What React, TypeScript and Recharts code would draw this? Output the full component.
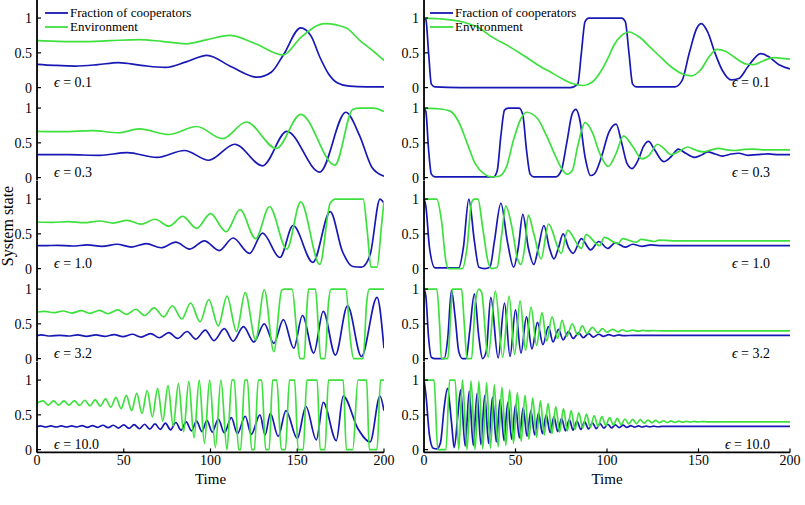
import { Line, LineChart, XAxis, YAxis } from 'recharts'

type Pt = [number, number]

const timeTicks = [0, 50, 100, 150, 200]
const stateTicks = [0, 0.5, 1]
const epsLabels = ['0.1', '0.3', '1.0', '3.2', '10.0']

// left column: cooperators (blue) and environment (green)
const coopL1: Pt[] = [[0, 0.335], [10, 0.32], [22, 0.31], [35, 0.33], [47, 0.36], [60, 0.32], [74, 0.29], [86, 0.37], [98, 0.465], [112, 0.3], [127, 0.15], [135, 0.22], [142, 0.47], [152, 0.86], [158, 0.74], [163, 0.44], [168, 0.2], [173, 0.07], [180, 0.02], [190, 0.01], [200, 0.01]]
const envL1: Pt[] = [[0, 0.675], [12, 0.665], [26, 0.66], [42, 0.675], [59, 0.69], [72, 0.665], [86, 0.63], [98, 0.69], [111, 0.75], [126, 0.63], [142, 0.47], [152, 0.72], [166, 0.92], [178, 0.86], [186, 0.68], [194, 0.52], [200, 0.39]]

const coopL2: Pt[] = [[0, 0.33], [18, 0.33], [36, 0.32], [52, 0.36], [69, 0.29], [85, 0.39], [99, 0.25], [114, 0.48], [130, 0.17], [144, 0.665], [163, 0.08], [178, 0.94], [186, 0.6], [193, 0.15], [200, 0.02]]
const envL2: Pt[] = [[0, 0.665], [15, 0.66], [32, 0.675], [47, 0.645], [59, 0.7], [76, 0.62], [92, 0.735], [107, 0.56], [120.6, 0.8], [138, 0.42], [152, 0.91], [171.7, 0.18], [182, 0.98], [186, 1.0], [194, 1.0], [200, 0.95]]

const coopL3: Pt[] = [[0, 0.33], [4, 0.33], [12, 0.335], [20.5, 0.325], [29, 0.34], [37.5, 0.32], [46, 0.35], [54.5, 0.31], [63, 0.36], [71.5, 0.3], [80, 0.38], [88, 0.28], [96.5, 0.4], [105, 0.26], [113, 0.44], [122.5, 0.22], [130, 0.51], [140, 0.16], [147.6, 0.62], [159, 0.09], [169, 0.82], [176, 0.25], [182, 0.03], [187, 0.02], [192, 0.2], [197.7, 1.0], [200, 0.94]]
const envL3: Pt[] = [[0, 0.67], [9, 0.665], [18, 0.675], [27, 0.66], [36, 0.685], [44, 0.655], [52, 0.695], [60, 0.64], [68, 0.71], [76, 0.61], [84, 0.75], [92, 0.58], [100, 0.79], [109, 0.53], [117, 0.85], [126, 0.43], [134, 0.89], [144, 0.28], [152, 0.96], [163, 0.06], [169, 0.94], [172, 1.0], [188, 1.0], [190.5, 0.5], [192.5, 0.02], [196, 0.02], [198.5, 0.6], [200, 0.97]]

const coopL4: Pt[] = [[0, 0.33], [2.5, 0.34], [7.5, 0.325], [13, 0.335], [18, 0.325], [23.5, 0.34], [28.5, 0.32], [34, 0.34], [39, 0.32], [44.5, 0.345], [49.5, 0.315], [55, 0.35], [60, 0.31], [65.5, 0.36], [70.5, 0.3], [76, 0.375], [81, 0.29], [86.5, 0.39], [91.5, 0.28], [97, 0.41], [102, 0.26], [108, 0.43], [113, 0.25], [119, 0.46], [125, 0.24], [131, 0.5], [136.5, 0.22], [142, 0.56], [148, 0.15], [153, 0.62], [159.5, 0.08], [165, 0.68], [172, 0.05], [179, 0.76], [187, 0.03], [196, 0.88], [200, 0.15]]
const envL4: Pt[] = [[0, 0.67], [4.5, 0.68], [9.5, 0.66], [15, 0.685], [20, 0.655], [25.5, 0.69], [30.5, 0.65], [36, 0.695], [41, 0.645], [46.5, 0.7], [51.5, 0.635], [57, 0.71], [62, 0.62], [67.5, 0.73], [73, 0.6], [78, 0.76], [83.5, 0.57], [88.5, 0.8], [94, 0.53], [99, 0.85], [104.5, 0.47], [109.5, 0.9], [115, 0.39], [120, 0.95], [126, 0.27], [131, 0.99], [136.5, 0.1], [141, 0.98], [142.5, 1.0], [147, 1.0], [150, 0.3], [151.5, 0.0], [154, 0.0], [155.5, 0.7], [156.5, 1.0], [160.5, 1.0], [162.5, 0.3], [163.5, 0.0], [166, 0.0], [168, 0.8], [169.5, 1.0], [178, 1.0], [180.5, 0.3], [182.5, 0.0], [188, 0.0], [190, 0.8], [191.5, 1.0], [200, 1.0]]

const coopL5: Pt[] = [[0, 0.33], [2, 0.34], [5, 0.325], [8, 0.34], [11, 0.325], [14, 0.34], [17, 0.325], [20, 0.34], [23, 0.325], [26, 0.345], [29, 0.32], [32, 0.345], [35, 0.32], [38, 0.35], [41, 0.315], [44, 0.35], [47, 0.31], [50, 0.355], [53, 0.305], [56, 0.36], [59, 0.3], [62, 0.365], [65, 0.295], [68, 0.37], [71, 0.29], [74, 0.38], [77, 0.285], [80, 0.39], [83, 0.28], [86, 0.4], [89, 0.27], [92, 0.41], [95, 0.26], [98, 0.42], [101, 0.25], [104.5, 0.44], [108, 0.24], [112, 0.46], [115.5, 0.23], [120, 0.48], [123.5, 0.22], [128.5, 0.5], [131.5, 0.21], [134.5, 0.52], [139, 0.19], [143.5, 0.56], [150, 0.16], [155, 0.62], [161, 0.14], [165, 0.68], [172.5, 0.13], [176.5, 0.77], [185, 0.3], [192, 0.11], [197.7, 0.77], [200, 0.56]]
const envL5: Pt[] = [[0, 0.67], [3.5, 0.7], [6.5, 0.64], [9.5, 0.7], [12.5, 0.64], [15.5, 0.7], [18.5, 0.64], [21.5, 0.705], [24.5, 0.635], [27.5, 0.71], [30.5, 0.63], [33.5, 0.715], [36.5, 0.625], [39.5, 0.73], [42.5, 0.61], [45.5, 0.75], [48.5, 0.59], [51.5, 0.78], [54.5, 0.56], [57.5, 0.81], [60.5, 0.52], [63.5, 0.85], [66.5, 0.47], [69.5, 0.88], [72.5, 0.41], [75.5, 0.92], [78.5, 0.34], [81.5, 0.95], [84.5, 0.26], [87.5, 0.98], [90.5, 0.17], [93.5, 1.0], [96.5, 0.09], [99.5, 1.0], [102.8, 0.03], [106, 1.0], [109.5, 0.0], [112.3, 1.0], [113.7, 1.0], [116.2, 0.0], [117.4, 0.0], [119.7, 1.0], [121.3, 1.0], [123.7, 0.0], [125.3, 0.0], [127.5, 1.0], [129.5, 1.0], [131.8, 0.0], [133.8, 0.0], [135.8, 1.0], [138.2, 1.0], [140.8, 0.0], [143.2, 0.0], [145.5, 1.0], [148.5, 1.0], [150.5, 0.0], [153.5, 0.0], [155.5, 1.0], [161.5, 1.0], [163.2, 0.0], [166, 0.0], [168, 1.0], [176.5, 1.0], [178.3, 0.0], [182, 0.0], [185, 1.0], [190, 1.0], [191.5, 0.0], [196, 0.0], [198, 1.0], [200, 1.0]]

// right column
const coopR1: Pt[] = [[0, 1.0], [1, 0.98], [2.5, 0.5], [4, 0.05], [6, 0.01], [20, 0.0], [80, 0.0], [84, 0.05], [86, 0.5], [88, 0.95], [90, 1.0], [108, 1.0], [110, 0.95], [112, 0.5], [114, 0.05], [116, 0.01], [137, 0.01], [141, 0.1], [145, 0.5], [149, 0.85], [151.6, 0.92], [155, 0.8], [159, 0.5], [163, 0.25], [168, 0.11], [172, 0.13], [177, 0.3], [184, 0.49], [188, 0.45], [194, 0.33], [200, 0.27]]
const envR1: Pt[] = [[0, 1.0], [8, 0.99], [21.6, 0.94], [30, 0.86], [37, 0.73], [46, 0.6], [54, 0.47], [62, 0.33], [70, 0.21], [76, 0.12], [81, 0.06], [87, 0.03], [92, 0.08], [97, 0.25], [101, 0.45], [104, 0.62], [108, 0.75], [112, 0.8], [118, 0.72], [124, 0.57], [130, 0.42], [135, 0.3], [141, 0.2], [146, 0.17], [151, 0.25], [156, 0.45], [160, 0.55], [165, 0.52], [170, 0.43], [176, 0.34], [180, 0.33], [185, 0.38], [191, 0.43], [196, 0.42], [200, 0.41]]

const coopR2: Pt[] = [[0, 1.0], [1, 0.95], [2.5, 0.4], [4, 0.05], [6, 0.01], [38, 0.01], [40, 0.1], [42, 0.6], [44, 0.97], [46, 1.0], [52, 1.0], [54, 0.9], [56, 0.4], [58, 0.05], [60, 0.01], [72, 0.01], [75, 0.1], [78, 0.5], [81, 0.92], [83, 0.98], [85, 0.85], [88, 0.3], [91, 0.03], [93, 0.05], [97, 0.3], [101, 0.65], [105, 0.77], [108, 0.5], [111, 0.2], [113.7, 0.13], [117, 0.25], [120, 0.45], [122.7, 0.52], [126, 0.4], [131, 0.23], [135, 0.3], [139, 0.41], [143, 0.35], [148, 0.29], [152, 0.33], [155, 0.37], [159, 0.34], [163, 0.31], [168, 0.34], [172, 0.35], [177, 0.32], [182, 0.33], [188, 0.34], [194, 0.33], [200, 0.33]]
const envR2: Pt[] = [[0, 1.0], [8, 0.99], [14, 0.96], [19, 0.8], [23.5, 0.5], [28, 0.2], [33, 0.05], [37, 0.01], [41, 0.02], [45, 0.15], [49, 0.55], [53, 0.85], [56, 0.94], [62, 0.85], [67, 0.6], [72, 0.3], [76, 0.1], [78, 0.05], [81, 0.1], [84, 0.45], [88, 0.79], [92, 0.65], [96, 0.35], [100.6, 0.16], [105, 0.35], [109, 0.6], [114, 0.45], [119, 0.27], [123, 0.32], [127.6, 0.48], [131, 0.42], [135, 0.33], [139.5, 0.38], [144, 0.44], [148, 0.4], [152.6, 0.37], [157, 0.4], [161, 0.42], [165.5, 0.4], [170, 0.39], [175, 0.405], [179.6, 0.41], [185, 0.4], [200, 0.4]]

const coopR3: Pt[] = [[0, 1.0], [1, 0.9], [3, 0.3], [6, 0.01], [19, 0.01], [21.5, 0.3], [24.5, 1.0], [27.5, 0.4], [30, 0.02], [33, 0.0], [36, 0.02], [38.5, 0.4], [42, 0.94], [45.5, 0.4], [49, 0.02], [51.5, 0.3], [54, 0.78], [57, 0.3], [60, 0.06], [62.5, 0.3], [65.5, 0.62], [68.5, 0.3], [71, 0.14], [73.5, 0.3], [76, 0.5], [79, 0.3], [81.5, 0.22], [86, 0.43], [91, 0.27], [95.5, 0.39], [100.5, 0.29], [104.5, 0.37], [110, 0.31], [114, 0.35], [119, 0.32], [124, 0.34], [130, 0.33], [200, 0.33]]
const envR3: Pt[] = [[0, 1.0], [7, 1.0], [9.5, 0.7], [12, 0.1], [13.5, 0.0], [21, 0.0], [23.5, 0.3], [26, 0.95], [27.5, 1.0], [29.5, 1.0], [32, 0.6], [35, 0.1], [37, 0.0], [40, 0.02], [42.5, 0.5], [44.7, 0.9], [48, 0.6], [51, 0.15], [53, 0.06], [55, 0.3], [57, 0.77], [60, 0.5], [64, 0.14], [68, 0.64], [75, 0.22], [78.5, 0.55], [86, 0.29], [88.5, 0.49], [96, 0.33], [98.5, 0.45], [106, 0.36], [108.5, 0.43], [116, 0.38], [118.5, 0.42], [126, 0.39], [128.5, 0.41], [136, 0.4], [200, 0.4]]

const coopR4: Pt[] = [[0, 1.0], [1, 0.9], [2.5, 0.3], [4, 0.02], [6, 0.0], [11, 0.0], [13, 0.3], [15, 0.98], [17, 0.6], [19, 0.1], [21, 0.0], [23, 0.0], [25, 0.4], [27.5, 0.93], [30, 0.3], [32, 0.0], [34, 0.1], [36.5, 0.88], [40.5, 0.01], [44, 0.8], [47, 0.03], [50, 0.7], [53, 0.08], [56, 0.6], [59, 0.14], [62, 0.52], [65, 0.2], [68, 0.46], [70.5, 0.24], [73.5, 0.42], [76, 0.27], [79, 0.39], [81.5, 0.29], [84.5, 0.37], [87, 0.3], [90, 0.36], [92.5, 0.31], [95.5, 0.35], [98, 0.32], [101, 0.345], [103.5, 0.325], [106.5, 0.34], [109, 0.33], [115, 0.335], [200, 0.335]]
const envR4: Pt[] = [[0, 1.0], [7, 1.0], [8.5, 0.5], [9.5, 0.0], [13, 0.0], [14.5, 0.6], [15.5, 1.0], [20.5, 1.0], [22, 0.5], [23.5, 0.0], [26, 0.0], [28, 0.8], [30, 1.0], [31.5, 0.95], [35, 0.02], [39, 0.97], [43, 0.02], [46.5, 0.9], [49.5, 0.06], [52.5, 0.83], [55.5, 0.12], [58.5, 0.74], [61.5, 0.19], [64.5, 0.66], [67, 0.25], [70, 0.6], [73, 0.29], [75.5, 0.55], [78, 0.32], [81, 0.5], [84, 0.34], [86.5, 0.47], [89, 0.36], [92, 0.45], [95, 0.37], [97.5, 0.43], [100, 0.38], [103, 0.42], [106, 0.385], [108.5, 0.415], [111, 0.39], [114, 0.41], [117, 0.395], [119.5, 0.405], [122, 0.398], [125, 0.402], [130, 0.4], [200, 0.4]]

const coopR5: Pt[] = [[0, 1.0], [1, 0.8], [3, 0.2], [5, 0.02], [7, 0.01], [9, 0.1], [11, 0.6], [12.8, 0.88], [15, 0.4], [16.5, 0.03], [18.5, 0.5], [20, 0.86], [22.5, 0.05], [24.7, 0.84], [26.9, 0.06], [29, 0.81], [31.1, 0.07], [33.2, 0.78], [35.3, 0.09], [37.4, 0.75], [39.5, 0.11], [41.6, 0.72], [43.7, 0.13], [45.8, 0.68], [47.9, 0.15], [50, 0.64], [52.1, 0.17], [54.2, 0.6], [56.3, 0.19], [58.4, 0.56], [60.5, 0.21], [62.6, 0.53], [64.7, 0.23], [66.8, 0.5], [68.9, 0.245], [71, 0.47], [73.1, 0.26], [75.2, 0.45], [77.3, 0.27], [79.4, 0.43], [81.5, 0.28], [83.6, 0.41], [85.7, 0.29], [87.8, 0.4], [89.9, 0.297], [92, 0.385], [94.1, 0.303], [96.2, 0.375], [98.3, 0.308], [100.4, 0.365], [102.5, 0.312], [104.6, 0.357], [106.7, 0.316], [108.8, 0.351], [110.9, 0.319], [113, 0.346], [115.1, 0.322], [117.2, 0.342], [119.3, 0.325], [121.4, 0.339], [123.5, 0.327], [125.6, 0.337], [127.7, 0.329], [130, 0.334], [200, 0.334]]
const envR5: Pt[] = [[0, 1.0], [5.5, 1.0], [7.5, 0.0], [12, 0.0], [14, 1.0], [17, 1.0], [19, 0.0], [21, 1.0], [23.5, 0.0], [25.7, 0.99], [27.9, 0.0], [30, 0.98], [32.1, 0.01], [34.2, 0.96], [36.3, 0.02], [38.4, 0.93], [40.5, 0.04], [42.6, 0.9], [44.7, 0.06], [46.8, 0.86], [48.9, 0.09], [51, 0.82], [53.1, 0.12], [55.2, 0.78], [57.3, 0.15], [59.4, 0.74], [61.5, 0.18], [63.6, 0.7], [65.7, 0.21], [67.8, 0.66], [69.9, 0.23], [72, 0.62], [74.1, 0.25], [76.2, 0.59], [78.3, 0.27], [80.4, 0.56], [82.5, 0.29], [84.6, 0.53], [86.7, 0.31], [88.8, 0.51], [90.9, 0.32], [93, 0.49], [95.1, 0.335], [97.2, 0.475], [99.3, 0.345], [101.4, 0.46], [103.5, 0.355], [105.6, 0.45], [107.7, 0.36], [109.8, 0.44], [111.9, 0.37], [114, 0.435], [116.1, 0.375], [118.2, 0.43], [120.3, 0.38], [122.4, 0.425], [124.5, 0.385], [126.6, 0.42], [128.7, 0.388], [130.8, 0.415], [132.9, 0.39], [135, 0.412], [137.1, 0.392], [139.2, 0.41], [141.3, 0.394], [143.4, 0.407], [145.5, 0.396], [147.6, 0.405], [149.7, 0.398], [151.8, 0.403], [155, 0.4], [200, 0.4]]

const leftCol = [[coopL1, envL1], [coopL2, envL2], [coopL3, envL3], [coopL4, envL4], [coopL5, envL5]]
const rightCol = [[coopR1, envR1], [coopR2, envR2], [coopR3, envR3], [coopR4, envR4], [coopR5, envR5]]

const BLUE = '#1818b4'
const GREEN = '#3ee03e'
const FONT = '"Liberation Serif", "Times New Roman", serif'

const PH = 90.4
const AXW = 40
const PAD_R = 14
const PAD_B = 8
const BOTTOM_H = 22
const COLS = [{ x: 37, w: 347 }, { x: 424, w: 366 }]
const ROW_Y = [0, 90.4, 180.8, 271.2, 361.6]

const pts = (a: Pt[]) => a.map(([t, v]) => ({ t, v }))
const tickText = { fontFamily: FONT, fontSize: 14, fill: '#000' }
const frame = { stroke: '#000', strokeWidth: 1.8 }
const tickMark = { stroke: '#000', strokeWidth: 1.2 }

function Panel({ x, w, y, coop, env, last }: { x: number; w: number; y: number; coop: Pt[]; env: Pt[]; last: boolean }) {
  const h = 1 + PH + PAD_B + (last ? BOTTOM_H : 0)
  return (
    <div style={{ position: 'absolute', left: x - AXW, top: y - 1 }}>
      <LineChart width={AXW + w + PAD_R} height={h} margin={{ top: 1, right: PAD_R, bottom: PAD_B, left: 0 }}>
        <XAxis xAxisId="b" type="number" dataKey="t" domain={[0, 200]} ticks={timeTicks} interval={0} allowDataOverflow
          height={last ? BOTTOM_H : 0} tickSize={-4} tickMargin={7} tick={last ? tickText : false} axisLine={frame} tickLine={tickMark} />
        <XAxis xAxisId="t" orientation="top" type="number" dataKey="t" domain={[0, 200]} ticks={timeTicks} interval={0} allowDataOverflow
          height={0} tickSize={-4} tick={false} axisLine={frame} tickLine={tickMark} />
        <YAxis yAxisId="l" type="number" domain={[-0.04, 1.26]} ticks={stateTicks} interval={0} allowDataOverflow width={AXW}
          tickSize={-4} tickMargin={9} tick={tickText} axisLine={frame} tickLine={tickMark}
          tickFormatter={(v: number) => (v === 0.5 ? '0.5' : String(v))} />
        <YAxis yAxisId="r" orientation="right" type="number" domain={[-0.04, 1.26]} ticks={stateTicks} interval={0} allowDataOverflow width={0}
          tickSize={-4} tick={false} axisLine={frame} tickLine={tickMark} />
        <Line xAxisId="b" yAxisId="l" data={pts(coop)} dataKey="v" type="monotone" stroke={BLUE} strokeWidth={1.7} dot={false} isAnimationActive={false} />
        <Line xAxisId="b" yAxisId="l" data={pts(env)} dataKey="v" type="monotone" stroke={GREEN} strokeWidth={1.7} dot={false} isAnimationActive={false} />
      </LineChart>
    </div>
  )
}

function Legend({ x }: { x: number }) {
  return (
    <g fontFamily={FONT} fontSize={13}>
      <line x1={x} x2={x + 23} y1={13} y2={13} stroke={BLUE} strokeWidth={1.8} />
      <text x={x + 25} y={17}>Fraction of cooperators</text>
      <line x1={x} x2={x + 23} y1={27} y2={27} stroke={GREEN} strokeWidth={1.8} />
      <text x={x + 25} y={31}>Environment</text>
    </g>
  )
}

export default function App() {
  return (
    <div style={{ position: 'absolute', left: 0, top: 0, width: 805, height: 505, background: '#fff', overflow: 'hidden' }}>
      {leftCol.map(([c, e], i) => (
        <Panel key={'l' + i} x={COLS[0].x} w={COLS[0].w} y={ROW_Y[i]} coop={c} env={e} last={i === 4} />
      ))}
      {rightCol.map(([c, e], i) => (
        <Panel key={'r' + i} x={COLS[1].x} w={COLS[1].w} y={ROW_Y[i]} coop={c} env={e} last={i === 4} />
      ))}
      <svg width={805} height={505} style={{ position: 'absolute', left: 0, top: 0, pointerEvents: 'none' }}>
        <Legend x={45} />
        <Legend x={430} />
        {epsLabels.map((eps, i) => (
          <g key={eps} fontFamily={FONT} fontSize={14}>
            <text x={54} y={ROW_Y[i] + 87}>
              <tspan fontStyle="italic">ϵ</tspan> = {eps}
            </text>
            <text x={COLS[1].x + COLS[1].w - 20} y={ROW_Y[i] + 87} textAnchor="end">
              <tspan fontStyle="italic">ϵ</tspan> = {eps}
            </text>
          </g>
        ))}
        <text x={COLS[0].x + COLS[0].w / 2} y={484} textAnchor="middle" fontFamily={FONT} fontSize={15}>Time</text>
        <text x={COLS[1].x + COLS[1].w / 2} y={484} textAnchor="middle" fontFamily={FONT} fontSize={15}>Time</text>
        <text transform="translate(13 226) rotate(-90)" textAnchor="middle" fontFamily={FONT} fontSize={16}>System state</text>
      </svg>
    </div>
  )
}
